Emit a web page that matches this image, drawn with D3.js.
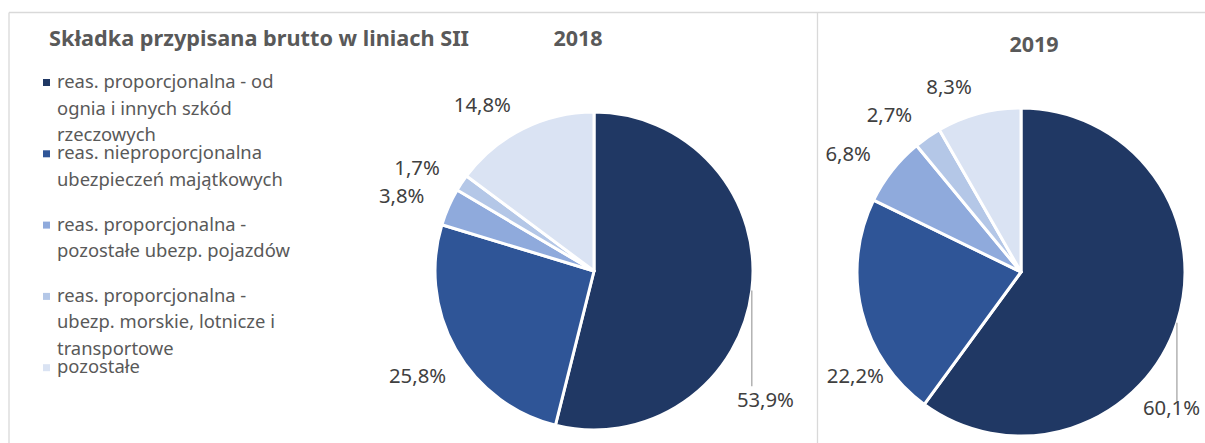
<!DOCTYPE html>
<html>
<head>
<meta charset="utf-8">
<script src="https://cdn.jsdelivr.net/npm/d3@7"></script>
<style>
  html, body { margin: 0; padding: 0; background: #ffffff; }
  svg { display: block; font-family: "Noto Sans", "Open Sans", sans-serif; }
</style>
</head>
<body>
<svg id="chart" width="1205" height="443"></svg>
<script>
// ---- data ----
const chartTitle = "Składka przypisana brutto w liniach SII";
const years = ["2018", "2019"];
const categories = [
  ["reas. proporcjonalna - od", "ognia i innych szkód", "rzeczowych"],
  ["reas. nieproporcjonalna", "ubezpieczeń majątkowych"],
  ["reas. proporcjonalna -", "pozostałe ubezp. pojazdów"],
  ["reas. proporcjonalna -", "ubezp. morskie, lotnicze i", "transportowe"],
  ["pozostałe"]
];
const values2018 = [53.9, 25.8, 3.8, 1.7, 14.8];
const values2019 = [60.1, 22.2, 6.8, 2.7, 8.3];

// ---- styles / layout ----
const colors = ["#203864", "#2F5597", "#8FAADC", "#B4C7E7", "#DAE3F3"];
const textGrey = "#595959";
const labelGrey = "#404040";
const frameGrey = "#D9D9D9";

const svg = d3.select("#chart");
const W = 1205, H = 443;

// frames
svg.append("line").attr("x1", 9).attr("x2", W).attr("y1", 12.5).attr("y2", 12.5)
  .attr("stroke", frameGrey).attr("stroke-width", 1.3);
svg.append("line").attr("x1", 9).attr("x2", 9).attr("y1", 12.5).attr("y2", H)
  .attr("stroke", frameGrey).attr("stroke-width", 1.3);
svg.append("line").attr("x1", 817.5).attr("x2", 817.5).attr("y1", 12.5).attr("y2", H)
  .attr("stroke", frameGrey).attr("stroke-width", 1.3);

// title
svg.append("text").attr("x", 49).attr("y", 46)
  .attr("font-size", 21.7).attr("font-weight", "bold").attr("fill", textGrey)
  .text(chartTitle);

// legend
const legendY0 = 88, legendStep = 71.3, lineStep = 26.5;
const legend = svg.append("g");
categories.forEach((lines, i) => {
  const by = legendY0 + i * legendStep;
  legend.append("rect").attr("x", 43).attr("y", by - 9).attr("width", 7).attr("height", 7)
    .attr("fill", colors[i]);
  const t = legend.append("text").attr("x", 57).attr("y", by)
    .attr("font-size", 18.4).attr("fill", textGrey);
  lines.forEach((ln, j) => {
    t.append("tspan").attr("x", 57).attr("y", by + j * lineStep).text(ln);
  });
});

// pies
const fmt = v => v.toFixed(1).replace(".", ",") + "%";
const pies = [
  { year: years[0], values: values2018, cx: 594, cy: 271, r: 159, titleX: 578, titleY: 46,
    big: { angle: 127, f: 1.35, gap: 14 }, second: { angle: 234.6, f: 1.141 } },
  { year: years[1], values: values2019, cx: 1021, cy: 272, r: 164, titleX: 1034, titleY: 52,
    big: { angle: 132, f: 1.235, gap: 6 }, second: { angle: 232.8, f: 1.049 } }
];

const rad = deg => deg * Math.PI / 180;
const polar = (cx, cy, a, R) => [cx + Math.sin(a) * R, cy - Math.cos(a) * R];

pies.forEach(p => {
  svg.append("text").attr("x", p.titleX).attr("y", p.titleY)
    .attr("text-anchor", "middle").attr("font-size", 21.5).attr("font-weight", "bold")
    .attr("fill", textGrey).text(p.year);

  const pie = d3.pie().sort(null).value(d => d).startAngle(0).endAngle(2 * Math.PI);
  const arcs = pie(p.values);
  const arc = d3.arc().innerRadius(0).outerRadius(p.r);
  const g = svg.append("g").attr("transform", `translate(${p.cx},${p.cy})`);
  g.selectAll("path").data(arcs).enter().append("path")
    .attr("d", arc)
    .attr("fill", (d, i) => colors[i])
    .attr("stroke", "#ffffff").attr("stroke-width", 3).attr("stroke-linejoin", "round");

  arcs.forEach((d, i) => {
    const mid = (d.startAngle + d.endAngle) / 2;
    let x, y, anchor = "end";
    if (i === 0) {
      [x, y] = polar(p.cx, p.cy, rad(p.big.angle), p.r * p.big.f);
      anchor = "middle";
      const [lx, ly] = polar(p.cx, p.cy, mid, p.r);
      svg.append("line").attr("x1", lx).attr("x2", lx).attr("y1", ly).attr("y2", y - p.big.gap)
        .attr("stroke", "#A6A6A6").attr("stroke-width", 1.3);
    } else if (i === 1) {
      [x, y] = polar(p.cx, p.cy, rad(p.second.angle), p.r * p.second.f);
    } else {
      [x, y] = polar(p.cx, p.cy, mid, p.r * 1.165);
    }
    svg.append("text").attr("x", x).attr("y", y + 7)
      .attr("text-anchor", anchor).attr("font-size", 20.3).attr("fill", labelGrey)
      .text(fmt(d.data));
  });
});
</script>
</body>
</html>
